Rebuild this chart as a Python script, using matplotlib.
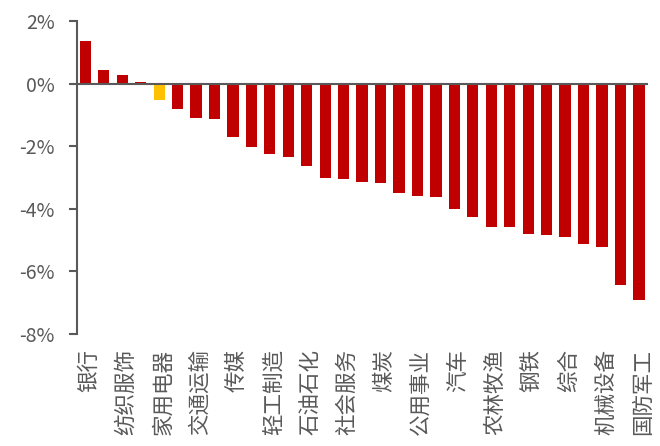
import numpy as np
import matplotlib
matplotlib.use("Agg")
import matplotlib.pyplot as plt
from matplotlib.transforms import ScaledTranslation

plt.rcParams['font.family'] = ['Noto Sans CJK SC', 'DejaVu Sans']

# industries sorted by weekly return (%); only every other label is shown
industries = ["银行", "非银金融", "纺织服饰", "食品饮料", "家用电器", "美容护理",
              "交通运输", "房地产", "传媒", "商贸零售", "轻工制造", "建筑装饰",
              "石油石化", "建筑材料", "社会服务", "医药生物", "煤炭", "环保",
              "公用事业", "通信", "汽车", "电子", "农林牧渔", "计算机",
              "钢铁", "有色金属", "综合", "基础化工", "机械设备", "电力设备",
              "国防军工"]
returns = [1.35, 0.44, 0.27, 0.05, -0.53, -0.80, -1.09, -1.12, -1.71, -2.01,
           -2.26, -2.35, -2.64, -3.03, -3.05, -3.15, -3.18, -3.50, -3.58, -3.63,
           -4.02, -4.27, -4.57, -4.57, -4.80, -4.85, -4.90, -5.12, -5.22, -6.42,
           -6.91]
highlight = "家用电器"

grey = "#595959"
colors = ["#FFC000" if n == highlight else "#C00000" for n in industries]

fig = plt.figure(figsize=(6.6, 4.46), dpi=100)
ax = fig.add_axes([0.1167, 0.251, 0.865, 0.702])

x = np.arange(len(industries))
ax.bar(x, returns, width=0.61, color=colors, zorder=2)
ax.axhline(0, color=grey, lw=1.5, zorder=3)

ax.set_xlim(-0.45, len(industries) - 0.51)
ax.set_ylim(-8, 2)
ax.set_yticks(np.arange(-8, 3, 2))
ax.set_yticklabels([f"{v}%" for v in range(-8, 3, 2)])

ax.set_xticks(x[::2])
ax.set_xticklabels(industries[::2], rotation=90, va="top", ha="center")
ax.tick_params(axis="x", length=0, pad=11, labelsize=15.5, colors=grey)
ax.tick_params(axis="y", length=6, width=1.5, pad=10, labelsize=14,
               colors=grey)
for lab in ax.get_xticklabels():
    lab.set_transform(lab.get_transform() +
                      ScaledTranslation(4 / 100, 0, fig.dpi_scale_trans))

for s in ["top", "right", "bottom"]:
    ax.spines[s].set_visible(False)
ax.spines["left"].set_color(grey)
ax.spines["left"].set_linewidth(1.5)

fig.savefig("out.png", dpi=100)
